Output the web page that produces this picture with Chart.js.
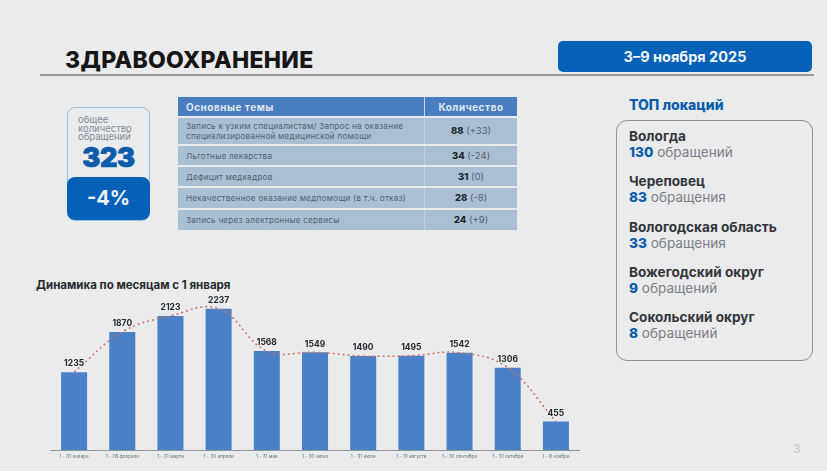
<!DOCTYPE html>
<html lang="ru">
<head>
<meta charset="UTF-8">
<title>Здравоохранение</title>
<script src="https://cdn.jsdelivr.net/npm/chart.js"></script>
<style>
  html, body { margin: 0; padding: 0; }
  body { width: 827px; height: 471px; background: #e9ebed; position: relative; overflow: hidden; font-family: Inter, "Open Sans", sans-serif; color: #2b2b2b; }
  .abs { position: absolute; }
  #title { left: 65px; top: 45px; font-size: 23px; font-weight: 800; color: #161616; letter-spacing: 0.3px; line-height: 30px; }
  #rule { left: 40px; top: 74px; width: 774px; height: 2px; background: #9b9b9b; }
  #period { left: 558px; top: 41px; width: 254px; height: 31px; border-radius: 5px; background: #0561b8; color: #f2f6fb; font-size: 14.5px; font-weight: 700; line-height: 31px; text-align: center; }
  #totalBox { left: 67px; top: 107px; width: 81px; height: 112px; border: 1.5px solid #9dc0de; border-radius: 8px; }
  #totalLabel { left: 78px; top: 115px; width: 70px; font-size: 9.5px; line-height: 8.5px; padding-top: 1px; color: #7f8c98; }
  #totalValue { left: 67px; top: 143px; width: 83px; font-size: 27px; font-weight: 900; color: #0b5cab; line-height: 30px; text-align: center; letter-spacing: -0.3px; -webkit-text-stroke: 0.7px #0b5cab; }
  #changeBox { left: 67px; top: 177px; width: 83px; height: 43px; border-radius: 8px; background: #0561b8; color: #eef3f9; font-size: 20px; font-weight: 700; line-height: 43px; text-align: center; }
  #topics { left: 178px; top: 97px; width: 339px; border-collapse: separate; border-spacing: 0 2px; table-layout: fixed; margin-top: -2px; }
  #topics th { background: #4a7dbf; color: #dfe8f2; font-size: 10px; letter-spacing: 0.5px; font-weight: 700; height: 19px; padding: 0 0 0 8px; text-align: left; }
  #topics th + th { border-left: 1px solid #c9d6e4; padding: 0; text-align: center; }
  #topics td { background: #aabfd6; font-size: 8.2px; letter-spacing: 0.22px; line-height: 10px; color: #55606c; padding: 0 0 0 8px; }
  #topics td + td { border-left: 1px solid #c0cfdf; padding: 0; text-align: center; font-size: 9.5px; letter-spacing: 0; }
  #topics td b { color: #23272c; font-weight: 800; }
  #chartTitle { left: 36px; top: 278px; font-size: 11.5px; font-weight: 700; color: #26292c; line-height: 14px; }
  #chartBox { left: 50px; top: 292px; width: 530px; height: 170px; }
  #topTitle { left: 629px; top: 96px; font-size: 14px; font-weight: 800; color: #0b5cab; line-height: 18px; }
  #topBox { left: 616px; top: 120px; width: 195px; height: 239px; border: 1.5px solid #8d9296; border-radius: 11px; }
  .loc { position: absolute; left: 629px; font-size: 13.6px; line-height: 16px; }
  .loc .name { font-weight: 700; color: #33363a; white-space: nowrap; }
  .loc .cnt { color: #7b8085; white-space: nowrap; }
  .loc .cnt b { color: #0b5cab; font-weight: 800; }
  #pageNo { left: 793px; top: 441px; font-size: 12px; color: #c5c8cb; }
</style>
</head>
<body>
  <div class="abs" id="title">ЗДРАВООХРАНЕНИЕ</div>
  <div class="abs" id="rule"></div>
  <div class="abs" id="period">3–9 ноября 2025</div>

  <div class="abs" id="totalBox"></div>
  <div class="abs" id="totalLabel">общее<br>количество<br>обращений</div>
  <div class="abs" id="totalValue">323</div>
  <div class="abs" id="changeBox">-4%</div>

  <table class="abs" id="topics"></table>

  <div class="abs" id="chartTitle">Динамика по месяцам с 1 января</div>
  <div class="abs" id="chartBox"><canvas id="monthChart"></canvas></div>

  <div class="abs" id="topTitle">ТОП локаций</div>
  <div class="abs" id="topBox"></div>
  <div id="locations"></div>

  <div class="abs" id="pageNo">3</div>

<script>
  // chart data
  const months = ['1 - 31 января', '1 - 28 февраля', '1 - 31 марта', '1 - 30 апреля', '1 - 31 мая', '1 - 30 июня',
    '1 - 31 июля', '1 - 31 августа', '1 - 30 сентября', '1 - 31 октября', '1 - 9 ноября'];
  const requests = [1235, 1870, 2123, 2237, 1568, 1549, 1490, 1495, 1542, 1306, 455];

  // table data
  const topicNames = ['Запись к узким специалистам/ Запрос на оказание<br>специализированной медицинской помощи',
    'Льготные лекарства', 'Дефицит медкадров', 'Некачественное оказание медпомощи (в т.ч. отказ)',
    'Запись через электронные сервисы'];
  const topicCounts = [88, 34, 31, 28, 24];
  const topicDiffs = ['+33', '-24', '0', '-8', '+9'];
  const topicRowHeights = [26, 19, 19, 20, 20];

  // locations
  const locationNames = ['Вологда', 'Череповец', 'Вологодская область', 'Вожегодский округ', 'Сокольский округ'];
  const locationCounts = [130, 83, 33, 9, 8];
  const locationWords = ['обращений', 'обращения', 'обращения', 'обращений', 'обращений'];

  // fill the table
  let rows = '<tr><th style="width:238px">Основные темы</th><th>Количество</th></tr>';
  topicNames.forEach((name, i) => {
    rows += '<tr style="height:' + topicRowHeights[i] + 'px"><td>' + name + '</td><td><b>' + topicCounts[i] + '</b> (' + topicDiffs[i] + ')</td></tr>';
  });
  document.getElementById('topics').innerHTML = rows;

  // fill the locations list
  const locBox = document.getElementById('locations');
  locationNames.forEach((name, i) => {
    const el = document.createElement('div');
    el.className = 'loc';
    el.style.top = (128 + i * 45.25) + 'px';
    el.innerHTML = '<div class="name">' + name + '</div><div class="cnt"><b>' + locationCounts[i] + '</b> ' + locationWords[i] + '</div>';
    locBox.appendChild(el);
  });

  // numbers above the bars
  const barLabels = {
    id: 'barLabels',
    afterDatasetsDraw(chart) {
      const ctx = chart.ctx;
      const meta = chart.getDatasetMeta(1);
      ctx.save();
      ctx.font = '700 8.5px Inter';
      ctx.fillStyle = '#26292c';
      ctx.textAlign = 'center';
      ctx.textBaseline = 'bottom';
      meta.data.forEach((bar, i) => {
        ctx.fillText(requests[i], bar.x, bar.y - 4);
      });
      ctx.restore();
    }
  };

  new Chart(document.getElementById('monthChart'), {
    type: 'bar',
    data: {
      labels: months,
      datasets: [
        {
          type: 'line',
          data: requests,
          borderColor: '#d9705a',
          borderWidth: 1.5,
          borderDash: [2, 3],
          tension: 0.4,
          pointRadius: 0,
          order: 0
        },
        {
          type: 'bar',
          data: requests,
          backgroundColor: '#4a80c8',
          categoryPercentage: 0.54,
          barPercentage: 1,
          order: 1
        }
      ]
    },
    plugins: [barLabels],
    options: {
      responsive: true,
      maintainAspectRatio: false,
      animation: false,
      plugins: { legend: { display: false }, tooltip: { enabled: false } },
      layout: { padding: 0 },
      scales: {
        y: { display: false, min: 0, max: 2500 },
        x: {
          grid: { display: false, drawTicks: false },
          border: { color: '#8f9498', width: 1 },
          ticks: { autoSkip: false, maxRotation: 0, minRotation: 0, padding: 3, color: '#6d7175', font: { family: 'Inter', size: 4.7 } }
        }
      }
    }
  });
</script>
</body>
</html>
